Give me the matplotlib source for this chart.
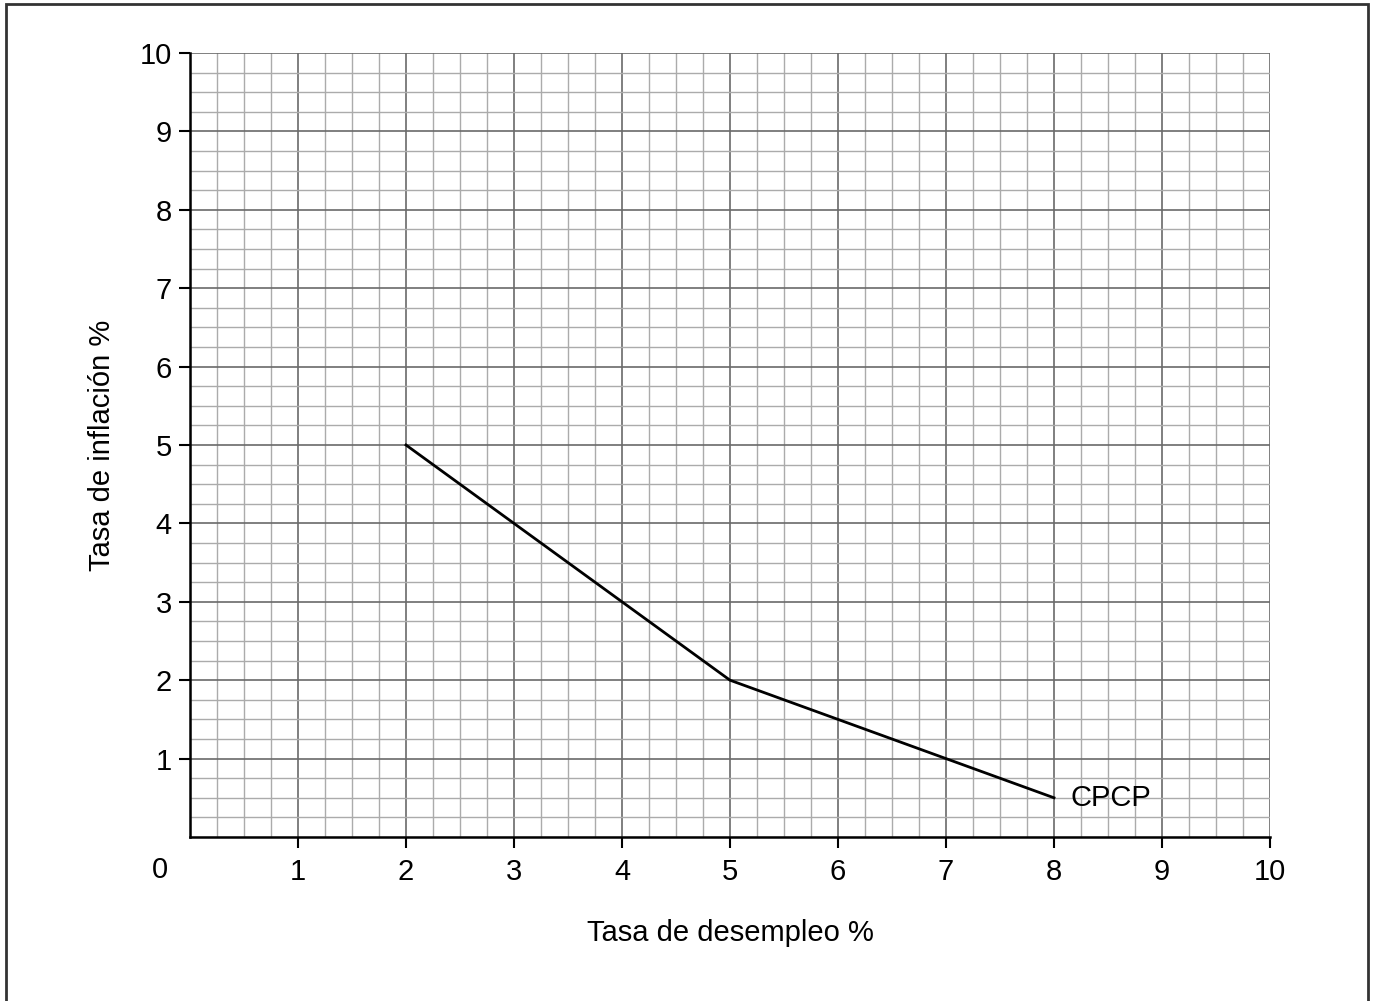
import matplotlib
matplotlib.use("Agg")
import matplotlib.pyplot as plt
from matplotlib.patches import Rectangle
import numpy as np

unemployment = [2, 3, 4, 5, 6, 7, 8]
inflation = [5, 4, 3, 2, 1.5, 1, 0.5]
curve_label = "CPCP"
x_ticks = [1, 2, 3, 4, 5, 6, 7, 8, 9, 10]
y_ticks = [1, 2, 3, 4, 5, 6, 7, 8, 9, 10]

plt.rcParams['font.family'] = ['Liberation Sans', 'DejaVu Sans']
FS = 21

fig = plt.figure(figsize=(13.75, 10.01), dpi=100)
ax = fig.add_axes([190/1375, 1-837/1001, (1270-190)/1375, (837-53)/1001])

ax.set_xlim(0, 10)
ax.set_ylim(0, 10)
ax.set_xticks(x_ticks)
ax.set_yticks(y_ticks)
ax.set_xticks(np.arange(0, 10.01, 0.25), minor=True)
ax.set_yticks(np.arange(0, 10.01, 0.25), minor=True)
ax.grid(which='minor', color='#ababab', linewidth=1.0)
ax.grid(which='major', color='#6a6a6a', linewidth=1.2)
ax.set_axisbelow(True)
ax.tick_params(which='minor', length=0)
ax.tick_params(which='major', length=8, width=1.5, labelsize=FS, direction='out', color='black')
ax.tick_params(axis='x', pad=7)
ax.tick_params(axis='y', pad=5)
for s in ['top', 'right']:
    ax.spines[s].set_visible(False)
for s in ['left', 'bottom']:
    ax.spines[s].set_linewidth(1.8)

ax.plot(unemployment, inflation, color='black', linewidth=2, clip_on=False)
ax.text(unemployment[-1] + 0.15, inflation[-1], curve_label, fontsize=FS, va='center', ha='left')

ax.text(-0.28, -0.42, "0", fontsize=FS, ha='center', va='center', transform=ax.transData)

ax.set_xlabel("Tasa de desempleo %", fontsize=FS, labelpad=24)
ax.set_ylabel("Tasa de inflación %", fontsize=FS, labelpad=17)

fig.patches.append(Rectangle((6/1375, -0.01), (1368-6)/1375, 1-4/1001+0.01, transform=fig.transFigure,
                             fill=False, edgecolor='#333333', linewidth=2))

fig.savefig("out.png", dpi=100)
